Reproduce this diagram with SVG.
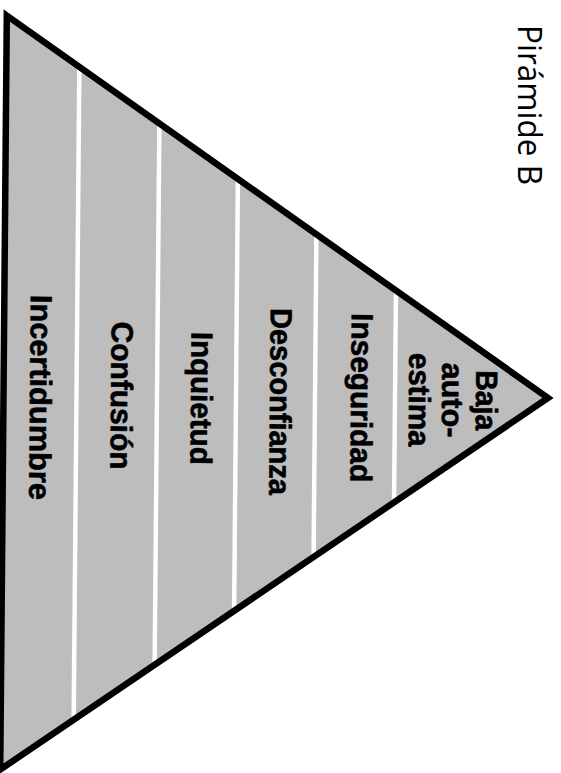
<svg xmlns="http://www.w3.org/2000/svg" width="561" height="773" viewBox="0 0 561 773">
  <style>
    .lbl { font-family: "Liberation Sans", Arial, sans-serif; font-weight: bold; font-size: 30.5px; fill: #000; stroke: #000; stroke-width: 0.6; text-anchor: middle; }
    .title { font-family: "Open Sans", "Liberation Sans", sans-serif; font-size: 32px; fill: #000; text-anchor: middle; }
    .sep { stroke: #fff; stroke-width: 4.5; }
  </style>
  <rect width="561" height="773" fill="#fff"/>
  <g id="pyramid" transform="rotate(0.5 280 395)">
    <polygon id="body" points="3.5,18 548,395.6 3.5,772" fill="#bdbdbd"/>
    <g id="separators">
      <line class="sep" x1="76.5" y1="0" x2="76.5" y2="790"/>
      <line class="sep" x1="157" y1="0" x2="157" y2="790"/>
      <line class="sep" x1="236" y1="0" x2="236" y2="790"/>
      <line class="sep" x1="315" y1="0" x2="315" y2="790"/>
      <line class="sep" x1="395" y1="0" x2="395" y2="790"/>
    </g>
    <polygon id="outline" points="3.5,18 548,395.6 3.5,772" fill="none" stroke="#000" stroke-width="6.5" stroke-linejoin="miter"/>
    <g id="incertidumbre">
      <text class="lbl" transform="translate(30,399.5) rotate(90)" textLength="205" lengthAdjust="spacingAndGlyphs">Incertidumbre</text>
    </g>
    <g id="confusion">
      <text class="lbl" transform="translate(111,397) rotate(90)" textLength="148" lengthAdjust="spacingAndGlyphs">Confusión</text>
    </g>
    <g id="inquietud">
      <text class="lbl" transform="translate(191,399) rotate(90)" textLength="133" lengthAdjust="spacingAndGlyphs">Inquietud</text>
    </g>
    <g id="desconfianza">
      <text class="lbl" transform="translate(270,401.5) rotate(90)" textLength="187" lengthAdjust="spacingAndGlyphs">Desconfianza</text>
    </g>
    <g id="inseguridad">
      <text class="lbl" transform="translate(351,397) rotate(90)" textLength="169" lengthAdjust="spacingAndGlyphs">Inseguridad</text>
    </g>
    <g id="baja-autoestima">
      <text class="lbl" transform="translate(476,398.5) rotate(90)" textLength="60" lengthAdjust="spacingAndGlyphs">Baja</text>
      <text class="lbl" transform="translate(442,398.5) rotate(90)" textLength="75" lengthAdjust="spacingAndGlyphs">auto-</text>
      <text class="lbl" transform="translate(409,398.5) rotate(90)" textLength="94" lengthAdjust="spacingAndGlyphs">estima</text>
    </g>
  </g>
  <g id="title">
    <text class="title" transform="translate(518,105) rotate(90)" textLength="160" lengthAdjust="spacingAndGlyphs">Pirámide B</text>
  </g>
</svg>
